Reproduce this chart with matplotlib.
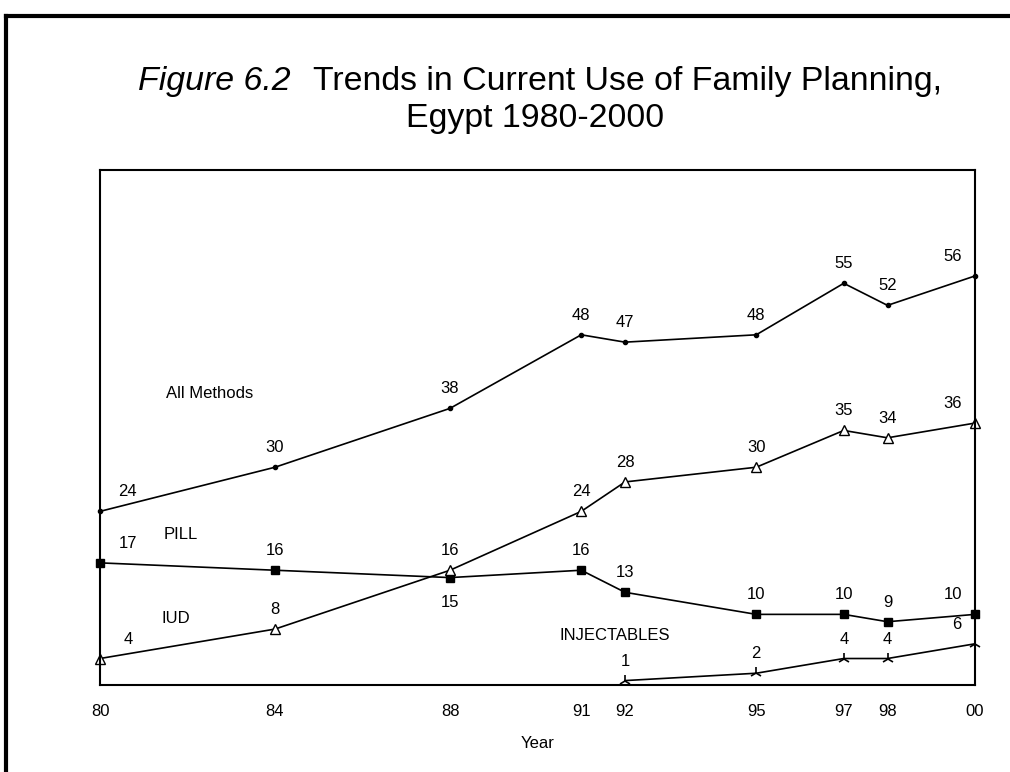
import matplotlib
matplotlib.use('Agg')
import matplotlib.pyplot as plt
from matplotlib.lines import Line2D

years = [1980, 1984, 1988, 1991, 1992, 1995, 1997, 1998, 2000]
tick_labels = ['80', '84', '88', '91', '92', '95', '97', '98', '00']
all_methods = [24, 30, 38, 48, 47, 48, 55, 52, 56]
pill = [17, 16, 15, 16, 13, 10, 10, 9, 10]
iud = [4, 8, 16, 24, 28, 30, 35, 34, 36]
inj_years = [1992, 1995, 1997, 1998, 2000]
injectables = [1, 2, 4, 4, 6]

plt.rcParams['font.family'] = ['Liberation Sans', 'DejaVu Sans']

fig = plt.figure(figsize=(10.1, 7.72), dpi=100)
ax = fig.add_axes([100 / 1010, 87 / 772, 875 / 1010, 515 / 772])

lw = 1.2
ax.plot(years, all_methods, color='black', lw=lw, marker='o', ms=3, clip_on=False)
ax.plot(years, pill, color='black', lw=lw, marker='s', ms=6, clip_on=False)
ax.plot(years, iud, color='black', lw=lw, marker='^', ms=7, mfc='white',
        mew=1, clip_on=False)
ax.plot(inj_years, injectables, color='black', lw=lw, marker='2', ms=9,
        mew=1.2, clip_on=False)

ax.set_xlim(1980, 2000)
ax.set_ylim(0.4, 70.4)
ax.set_yticks([])
ax.set_xticks(years)
ax.set_xticklabels(tick_labels)
ax.tick_params(axis='x', length=0, pad=14, labelsize=12)
for s in ax.spines.values():
    s.set_linewidth(1.5)
ax.set_xlabel('Year', fontsize=12, labelpad=12)

fs = 12


def label_series(xs, ys, dy=14, below=(), end_dx=-16):
    for x, y in zip(xs, ys):
        dx = 0
        if x == 1980:
            dx = 20
        elif x == 2000:
            dx = end_dx
        off = -18 if x in below else dy
        ax.annotate(str(y), (x, y), xytext=(dx, off), textcoords='offset points',
                    ha='center', va='center', fontsize=fs)


label_series(years, all_methods)
label_series(years, pill, below=(1988,))
label_series(years, iud)
label_series(inj_years, injectables, end_dx=-13)

ax.text(1981.5, 40.0, 'All Methods', fontsize=fs, va='center')
ax.text(1981.45, 20.9, 'PILL', fontsize=fs, va='center')
ax.text(1981.4, 9.5, 'IUD', fontsize=fs, va='center')
ax.text(1990.5, 7.1, 'INJECTABLES', fontsize=fs, va='center')

# title
fig.text(291 / 1010, 1 - 90 / 772, 'Figure 6.2', ha='right', va='baseline',
         fontsize=24.4, style='italic')
fig.text(313 / 1010, 1 - 90 / 772, 'Trends in Current Use of Family Planning,',
         ha='left', va='baseline', fontsize=24.4)
fig.text(535 / 1010, 1 - 127 / 772, 'Egypt 1980-2000', ha='center', va='baseline',
         fontsize=24.4)

# outer frame (left and top edges)
fig.add_artist(Line2D([6 / 1010, 6 / 1010], [0, 1 - 16 / 772], color='black',
                      lw=3, transform=fig.transFigure))
fig.add_artist(Line2D([6 / 1010, 1], [1 - 16 / 772, 1 - 16 / 772], color='black',
                      lw=3, transform=fig.transFigure))

fig.savefig('out.png', dpi=100)
